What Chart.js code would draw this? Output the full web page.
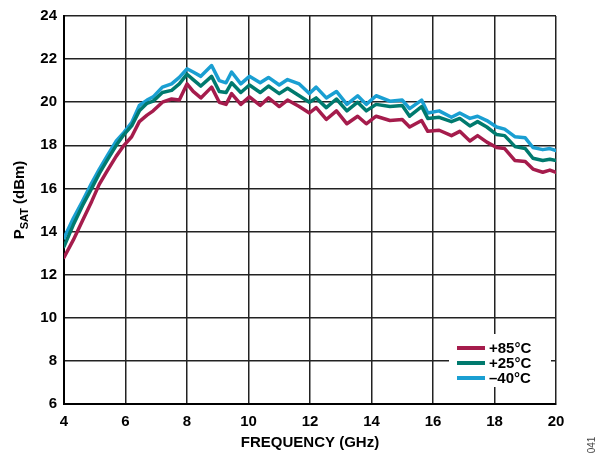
<!DOCTYPE html>
<html>
<head>
<meta charset="utf-8">
<script src="https://cdn.jsdelivr.net/npm/chart.js@4"></script>
<style>
  html, body { margin: 0; padding: 0; background: #fff; }
  #wrap { width: 605px; height: 458px; position: relative; }
</style>
</head>
<body>
<div id="wrap"><canvas id="psatChart" width="605" height="458"></canvas></div>
<script>
// frequency points (GHz)
const freq = [4.0, 4.3, 4.6, 4.9, 5.15, 5.4, 5.7, 5.95, 6.2, 6.45, 6.7, 6.9, 7.2, 7.5, 7.75, 8.0,
  8.2, 8.45, 8.8, 9.05, 9.27, 9.45, 9.75, 10.03, 10.38, 10.65, 11.0, 11.27, 11.65, 11.98, 12.2,
  12.53, 12.86, 13.2, 13.55, 13.83, 14.15, 14.6, 15.0, 15.24, 15.63, 15.83, 16.2, 16.6, 16.87,
  17.2, 17.45, 17.75, 18.07, 18.33, 18.66, 19.0, 19.25, 19.57, 19.8, 20.0];

// PSAT (dBm)
const psat85 = [12.8, 13.6, 14.5, 15.4, 16.2, 16.8, 17.5, 18.0, 18.4, 19.1, 19.4, 19.6, 20.0, 20.15, 20.1, 20.85,
  20.5, 20.2, 20.7, 20.0, 19.9, 20.4, 19.9, 20.25, 19.85, 20.2, 19.8, 20.1, 19.8, 19.5, 19.75,
  19.2, 19.6, 19.0, 19.35, 19.0, 19.35, 19.15, 19.2, 18.85, 19.15, 18.65, 18.7, 18.45, 18.65,
  18.2, 18.45, 18.15, 17.9, 17.85, 17.3, 17.25, 16.9, 16.75, 16.85, 16.75];
const psat25 = [13.3, 14.3, 15.2, 16.0, 16.7, 17.3, 18.0, 18.5, 18.9, 19.6, 19.95, 20.05, 20.45, 20.55, 20.85, 21.3,
  21.05, 20.75, 21.2, 20.5, 20.45, 20.9, 20.45, 20.8, 20.45, 20.75, 20.4, 20.65, 20.3, 20.0, 20.2,
  19.75, 20.15, 19.6, 20.0, 19.6, 19.9, 19.8, 19.85, 19.35, 19.8, 19.25, 19.3, 19.1, 19.25,
  18.9, 19.1, 18.85, 18.5, 18.45, 17.95, 17.85, 17.4, 17.3, 17.35, 17.3];
const psatM40 = [13.7, 14.6, 15.4, 16.25, 16.9, 17.5, 18.2, 18.6, 19.05, 19.85, 20.1, 20.25, 20.7, 20.85, 21.15, 21.55,
  21.4, 21.2, 21.7, 21.0, 20.9, 21.4, 20.85, 21.2, 20.9, 21.15, 20.8, 21.05, 20.85, 20.4, 20.7,
  20.2, 20.5, 19.9, 20.3, 19.9, 20.3, 20.05, 20.1, 19.7, 20.1, 19.5, 19.6, 19.3, 19.5,
  19.25, 19.35, 19.15, 18.85, 18.75, 18.4, 18.35, 17.9, 17.8, 17.85, 17.75];

const seriesLabels = ['+85°C', '+25°C', '\u201340°C'];
const seriesColors = ['#a51c4c', '#007a6e', '#1a9fd2'];

const FONT = '"Liberation Sans", Arial, sans-serif';

function pts(vals) {
  return freq.map((f, i) => ({ x: f, y: vals[i] }));
}

// titles, legend box and figure number drawn by hand
const decorations = {
  id: 'decorations',
  afterDatasetsDraw(chart) {
    const ctx = chart.ctx;
    const area = chart.chartArea;
    ctx.save();

    // legend
    ctx.fillStyle = '#fff';
    ctx.fillRect(449, 334, 102, 53);
    const rows = [348, 363, 378];
    ctx.font = 'bold 15px ' + FONT;
    ctx.textBaseline = 'middle';
    ctx.textAlign = 'left';
    for (let i = 0; i < 3; i++) {
      ctx.strokeStyle = seriesColors[i];
      ctx.lineWidth = 4;
      ctx.beginPath();
      ctx.moveTo(457, rows[i]);
      ctx.lineTo(485, rows[i]);
      ctx.stroke();
      ctx.fillStyle = '#000';
      ctx.fillText(seriesLabels[i], 489, rows[i] + 1);
    }

    // x title
    ctx.font = 'bold 15px ' + FONT;
    ctx.textAlign = 'center';
    ctx.textBaseline = 'middle';
    ctx.fillStyle = '#000';
    ctx.fillText('FREQUENCY (GHz)', (area.left + area.right) / 2, 443);

    // y title with subscript
    ctx.translate(19, 200);
    ctx.rotate(-Math.PI / 2);
    const big = 'bold 15px ' + FONT;
    const small = 'bold 11px ' + FONT;
    ctx.font = big; const wP = ctx.measureText('P').width;
    ctx.font = small; const wS = ctx.measureText('SAT').width;
    ctx.font = big; const wR = ctx.measureText(' (dBm)').width;
    let x0 = -(wP + wS + wR) / 2;
    ctx.textAlign = 'left';
    ctx.textBaseline = 'alphabetic';
    ctx.font = big; ctx.fillText('P', x0, 5);
    ctx.font = small; ctx.fillText('SAT', x0 + wP, 9);
    ctx.font = big; ctx.fillText(' (dBm)', x0 + wP + wS, 5);
    ctx.restore();

    // figure number
    ctx.save();
    ctx.translate(592, 445);
    ctx.rotate(-Math.PI / 2);
    ctx.font = '10px ' + FONT;
    ctx.fillStyle = '#444';
    ctx.textAlign = 'center';
    ctx.textBaseline = 'middle';
    ctx.fillText('041', 0, 0);
    ctx.restore();
  }
};

const ctx = document.getElementById('psatChart').getContext('2d');
const myChart = new Chart(ctx, {
  type: 'line',
  data: {
    datasets: [
      { label: seriesLabels[0], data: pts(psat85), borderColor: seriesColors[0] },
      { label: seriesLabels[1], data: pts(psat25), borderColor: seriesColors[1] },
      { label: seriesLabels[2], data: pts(psatM40), borderColor: seriesColors[2] }
    ]
  },
  options: {
    responsive: false,
    animation: false,
    layout: { padding: { top: 13, right: 49, left: 0, bottom: 0 } },
    elements: {
      line: { borderWidth: 3.5, tension: 0, borderCapStyle: 'round', borderJoinStyle: 'round' },
      point: { radius: 0 }
    },
    scales: {
      x: {
        type: 'linear', min: 4, max: 20,
        afterFit: s => { s.height = 54; },
        grid: { color: '#222', lineWidth: 1.5, drawTicks: false },
        border: { color: '#000', width: 2 },
        ticks: { stepSize: 2, color: '#000', padding: 9, font: { family: FONT, size: 15, weight: 'bold' } }
      },
      y: {
        min: 6, max: 24,
        afterFit: s => { s.width = 64; },
        grid: { color: '#222', lineWidth: 1.5, drawTicks: false },
        border: { color: '#000', width: 2 },
        ticks: { stepSize: 2, color: '#000', padding: 7, font: { family: FONT, size: 15, weight: 'bold' } }
      }
    },
    plugins: { legend: { display: false }, tooltip: { enabled: false } }
  },
  plugins: [decorations]
});
</script>
</body>
</html>
